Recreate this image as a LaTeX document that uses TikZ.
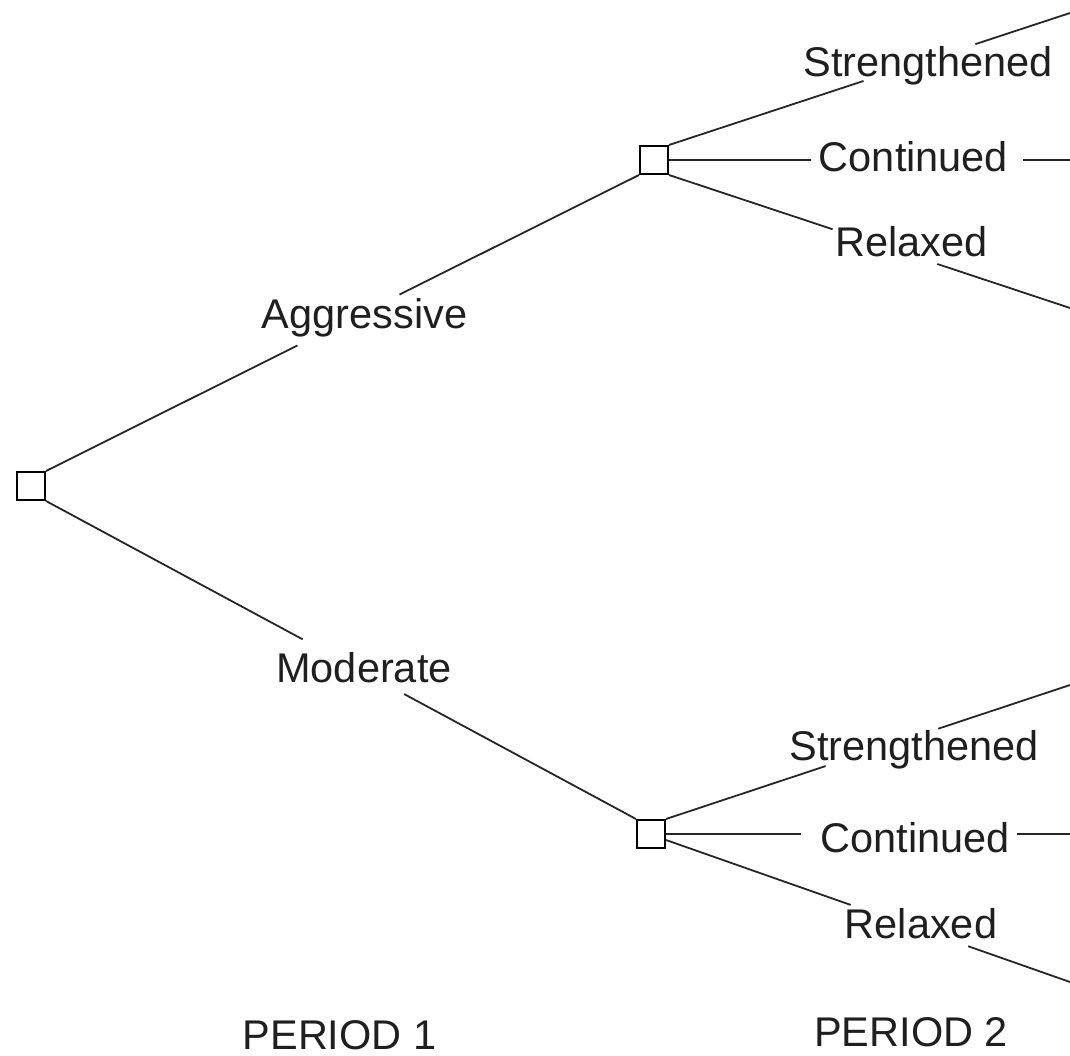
\documentclass[tikz,border=0pt]{standalone}
\usepackage{fontspec}
\setmainfont{Liberation Sans}
\usetikzlibrary{calc}
\begin{document}
\begin{tikzpicture}[x=1pt,y=-1pt,
  dnode/.style={draw,line width=2pt,minimum size=28pt,inner sep=0pt},
  lab/.style={font=\fontsize{41.5}{48}\selectfont,anchor=base,inner sep=0pt,text=black!88},
  branch/.style={line width=1.8pt,black!85}]
\useasboundingbox (0,0) rectangle (1070,1056);
% decision nodes
\node[dnode] (r) at (31,486) {};
\node[dnode] (a) at (654,160) {};
\node[dnode] (m) at (651,834) {};
% leaf ends
\coordinate (s1) at (1070,13);
\coordinate (c1) at (1070,160);
\coordinate (r1) at (1070,308);
\coordinate (s2) at (1070,685);
\coordinate (c2) at (1070,834);
\coordinate (r2) at (1070,982);
% root branches
\draw[branch] (r.north east) -- ($(r.north east)!0.424!(a.south west)$);
\draw[branch] ($(r.north east)!0.596!(a.south west)$) -- (a.south west);
\draw[branch] (r.south east) -- ($(r.south east)!0.435!(m.north west)$);
\draw[branch] ($(r.south east)!0.607!(m.north west)$) -- (m.north west);
% upper node branches
\draw[branch] (a.north east) -- ($(a.north east)!0.485!(s1)$);
\draw[branch] ($(a.north east)!0.764!(s1)$) -- (s1);
\draw[branch] (a.east) -- ($(a.east)!0.353!(c1)$);
\draw[branch] ($(a.east)!0.883!(c1)$) -- (c1);
\draw[branch] (a.south east) -- ($(a.south east)!0.408!(r1)$);
\draw[branch] ($(a.south east)!0.669!(r1)$) -- (r1);
% lower node branches
\coordinate (mr) at ([yshift=-6pt]m.east);
\draw[branch] (m.north east) -- ($(m.north east)!0.395!(s2)$);
\draw[branch] ($(m.north east)!0.674!(s2)$) -- (s2);
\draw[branch] (m.east) -- ($(m.east)!0.333!(c2)$);
\draw[branch] ($(m.east)!0.869!(c2)$) -- (c2);
\draw[branch] (mr) -- ($(mr)!0.457!(r2)$);
\draw[branch] ($(mr)!0.748!(r2)$) -- (r2);
% labels
\node[lab] (agg) at (364.5,328) {Aggressive};
\node[lab] (mod) at (364,682) {Moderate};
\node[lab] (st1) at (928,77) {Strengthened};
\node[lab] (co1) at (913.5,172) {Continued};
\node[lab] (re1) at (911.5,257) {Relaxed};
\node[lab] (st2) at (914,760) {Strengthened};
\node[lab] (co2) at (915,852) {Continued};
\node[lab] (re2) at (921,938) {Relaxed};
\node[lab] (p1) at (339.5,1049) {PERIOD 1};
\node[lab] (p2) at (911,1046) {PERIOD 2};
\end{tikzpicture}
\end{document}
